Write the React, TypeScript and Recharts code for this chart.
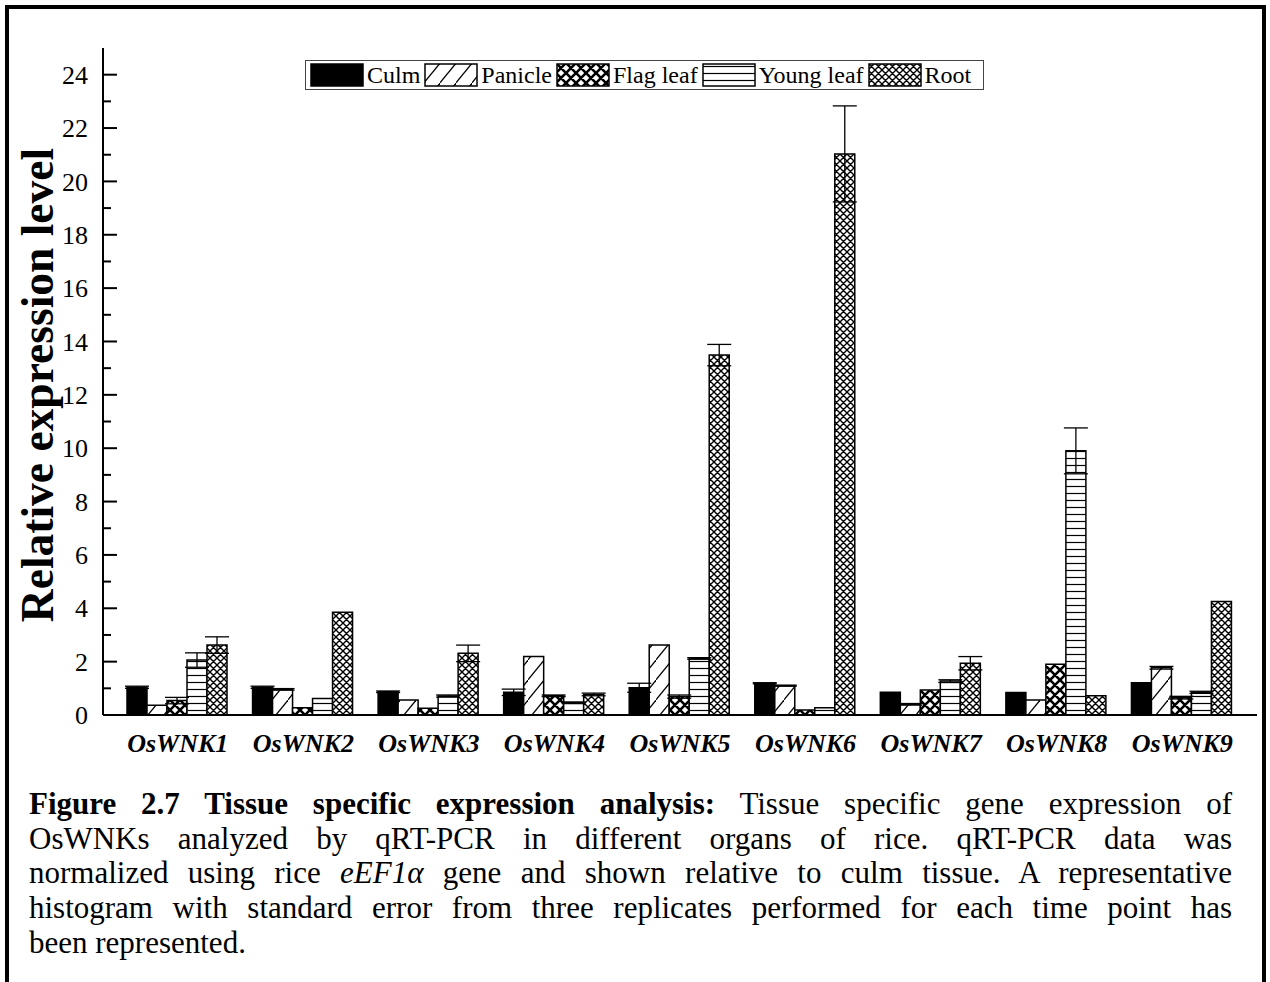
import React from "react";
import { Bar, BarChart, ErrorBar, XAxis, YAxis } from "recharts";

// genes on the x axis
const GENES = ["OsWNK1", "OsWNK2", "OsWNK3", "OsWNK4", "OsWNK5", "OsWNK6", "OsWNK7", "OsWNK8", "OsWNK9"];

// relative expression per tissue
const CULM = [1.04, 1.04, 0.87, 0.85, 1.02, 1.19, 0.85, 0.84, 1.21];
const CULM_ERR = [0.04, 0.04, 0.03, 0.12, 0.17, 0.02, 0, 0, 0];
const PANICLE = [0.37, 0.96, 0.56, 2.19, 2.62, 1.1, 0.4, 0.56, 1.77];
const PANICLE_ERR = [0, 0.03, 0, 0, 0, 0.02, 0.03, 0, 0.05];
const FLAG_LEAF = [0.54, 0.27, 0.25, 0.72, 0.69, 0.19, 0.94, 1.9, 0.65];
const FLAG_LEAF_ERR = [0.12, 0, 0, 0.03, 0.06, 0, 0, 0, 0.05];
const YOUNG_LEAF = [2.06, 0.62, 0.71, 0.46, 2.12, 0.27, 1.27, 9.9, 0.85];
const YOUNG_LEAF_ERR = [0.27, 0, 0.04, 0.03, 0.03, 0, 0.05, 0.86, 0.04];
const ROOT = [2.62, 3.85, 2.31, 0.77, 13.49, 21.03, 1.94, 0.72, 4.25];
const ROOT_ERR = [0.31, 0, 0.31, 0.05, 0.4, 1.8, 0.25, 0, 0];

const Y_TICKS = Array.from({ length: 25 }, (_, i) => i);

const rows = GENES.map((gene, i) => ({
  gene,
  culm: CULM[i],
  culmErr: CULM_ERR[i],
  panicle: PANICLE[i],
  panicleErr: PANICLE_ERR[i],
  flag: FLAG_LEAF[i],
  flagErr: FLAG_LEAF_ERR[i],
  young: YOUNG_LEAF[i],
  youngErr: YOUNG_LEAF_ERR[i],
  root: ROOT[i],
  rootErr: ROOT_ERR[i],
}));

const SERIES = [
  { key: "culm", name: "Culm", fill: "#000" },
  { key: "panicle", name: "Panicle", fill: "url(#pat-panicle)" },
  { key: "flag", name: "Flag leaf", fill: "url(#pat-flag)" },
  { key: "young", name: "Young leaf", fill: "url(#pat-young)" },
  { key: "root", name: "Root", fill: "url(#pat-root)" },
];

const SERIF = '"Liberation Serif", "Times New Roman", serif';

function Patterns() {
  return (
    <svg width={0} height={0} style={{ position: "absolute" }}>
      <defs>
        <pattern id="pat-panicle" patternUnits="userSpaceOnUse" width={16} height={20}>
          <rect width={16} height={20} fill="#fff" />
          <path d="M-1,21 L17,-1" stroke="#000" strokeWidth={1.3} />
        </pattern>
        <pattern id="pat-flag" patternUnits="userSpaceOnUse" width={10} height={10}>
          <rect width={10} height={10} fill="#fff" />
          <path
            d="M-2,2 L2,-2 M0,10 L10,0 M8,12 L12,8 M-2,8 L2,12 M0,0 L10,10 M8,-2 L12,2"
            stroke="#000"
            strokeWidth={2.6}
          />
        </pattern>
        <pattern id="pat-young" patternUnits="userSpaceOnUse" width={8} height={7}>
          <rect width={8} height={7} fill="#fff" />
          <line x1={0} x2={8} y1={3.5} y2={3.5} stroke="#000" strokeWidth={1.2} />
        </pattern>
        <pattern id="pat-root" patternUnits="userSpaceOnUse" width={7} height={7}>
          <rect width={7} height={7} fill="#fff" />
          <path
            d="M-1,1 L1,-1 M0,7 L7,0 M6,8 L8,6 M-1,6 L1,8 M0,0 L7,7 M6,-1 L8,1"
            stroke="#000"
            strokeWidth={1.4}
          />
        </pattern>
      </defs>
    </svg>
  );
}

function YTick({ x, y, payload }: any) {
  const v = payload.value;
  const major = v % 2 === 0;
  return (
    <g>
      <line x1={x} x2={x + (major ? 14 : 8)} y1={y} y2={y} stroke="#000" strokeWidth={2} />
      {major ? (
        <text x={x - 15} y={y} dy="0.35em" textAnchor="end" fontSize={26} fontFamily={SERIF} fill="#000">
          {v}
        </text>
      ) : null}
    </g>
  );
}

function XTick({ x, y, payload }: any) {
  return (
    <text
      x={x}
      y={y + 37}
      textAnchor="middle"
      fontSize={26}
      fontWeight="bold"
      fontStyle="italic"
      fontFamily={SERIF}
      fill="#000"
    >
      {payload.value}
    </text>
  );
}

function YLabel() {
  return (
    <text
      x={53}
      y={385}
      transform="rotate(-90 53 385)"
      textAnchor="middle"
      fontSize={45.5}
      fontWeight="bold"
      fontFamily={SERIF}
      fill="#000"
    >
      Relative expression level
    </text>
  );
}

function LegendBox() {
  return (
    <div
      style={{
        position: "absolute",
        left: 305,
        top: 60,
        width: 679,
        height: 30,
        boxSizing: "border-box",
        border: "1px solid #444",
        display: "flex",
        alignItems: "center",
        paddingLeft: 4,
        fontFamily: SERIF,
        fontSize: 24,
        lineHeight: 1,
        background: "#fff",
        whiteSpace: "nowrap",
      }}
    >
      {SERIES.map((s) => (
        <span key={s.key} style={{ display: "inline-flex", alignItems: "center", flexShrink: 0 }}>
          <svg width={54} height={24} style={{ display: "block" }}>
            <rect x={1} y={1} width={52} height={22} fill={s.fill} stroke="#000" strokeWidth={1.5} />
          </svg>
          <span style={{ margin: "0 4px 0 3px" }}>{s.name}</span>
        </span>
      ))}
    </div>
  );
}

export default function App() {
  const line = { textAlign: "justify" as const, textAlignLast: "justify" as const };
  return (
    <div
      style={{
        position: "absolute",
        left: 0,
        top: 0,
        width: 1270,
        height: 982,
        background: "#fff",
        overflow: "hidden",
        fontFamily: SERIF,
      }}
    >
      <Patterns />
      {/* page frame */}
      <div style={{ position: "absolute", left: 5, top: 5, width: 1261, height: 4, background: "#000" }} />
      <div style={{ position: "absolute", left: 5, top: 5, width: 4, height: 977, background: "#000" }} />
      <div style={{ position: "absolute", left: 1262, top: 5, width: 4, height: 977, background: "#000" }} />

      <div style={{ position: "absolute", left: 0, top: 0 }}>
        <BarChart
          width={1258}
          height={762}
          data={rows}
          margin={{ top: 48, right: 1, bottom: 10, left: 0 }}
          barCategoryGap={12}
          barGap={0}
        >
          <XAxis
            dataKey="gene"
            padding={{ left: 12, right: 12 }}
            height={37}
            tickLine={false}
            tickSize={0}
            tickMargin={0}
            interval={0}
            axisLine={{ stroke: "#000", strokeWidth: 2 }}
            tick={<XTick />}
          />
          <XAxis
            xAxisId="top"
            orientation="top"
            dataKey="gene"
            height={0}
            tick={false}
            tickLine={false}
            axisLine={{ stroke: "#000", strokeWidth: 2 }}
          />
          <YAxis
            type="number"
            domain={[0, 25]}
            ticks={Y_TICKS}
            interval={0}
            width={103}
            tickLine={false}
            tickSize={0}
            tickMargin={0}
            axisLine={{ stroke: "#000", strokeWidth: 2 }}
            tick={<YTick />}
            label={{ content: () => <YLabel /> }}
          />
          <YAxis
            yAxisId="right"
            orientation="right"
            type="number"
            domain={[0, 25]}
            width={0}
            tick={false}
            tickLine={false}
            axisLine={{ stroke: "#000", strokeWidth: 2 }}
          />
          {SERIES.map((s) => (
            <Bar
              key={s.key}
              dataKey={s.key}
              name={s.name}
              fill={s.fill}
              stroke="#000"
              strokeWidth={1.5}
              isAnimationActive={false}
            >
              <ErrorBar
                dataKey={s.key + "Err"}
                width={12}
                stroke="#000"
                strokeWidth={1.3}
                isAnimationActive={false}
              />
            </Bar>
          ))}
        </BarChart>
      </div>

      <LegendBox />

      <div
        style={{
          position: "absolute",
          left: 29,
          top: 787,
          width: 1203,
          fontSize: 31,
          lineHeight: "34.7px",
          color: "#000",
        }}
      >
        <div style={line}>
          <b>Figure 2.7 Tissue specific expression analysis:</b> Tissue specific gene expression of
        </div>
        <div style={line}>OsWNKs analyzed by qRT-PCR in different organs of rice. qRT-PCR data was</div>
        <div style={line}>
          normalized using rice <i>eEF1α</i> gene and shown relative to culm tissue. A representative
        </div>
        <div style={line}>histogram with standard error from three replicates performed for each time point has</div>
        <div>been represented.</div>
      </div>
    </div>
  );
}
